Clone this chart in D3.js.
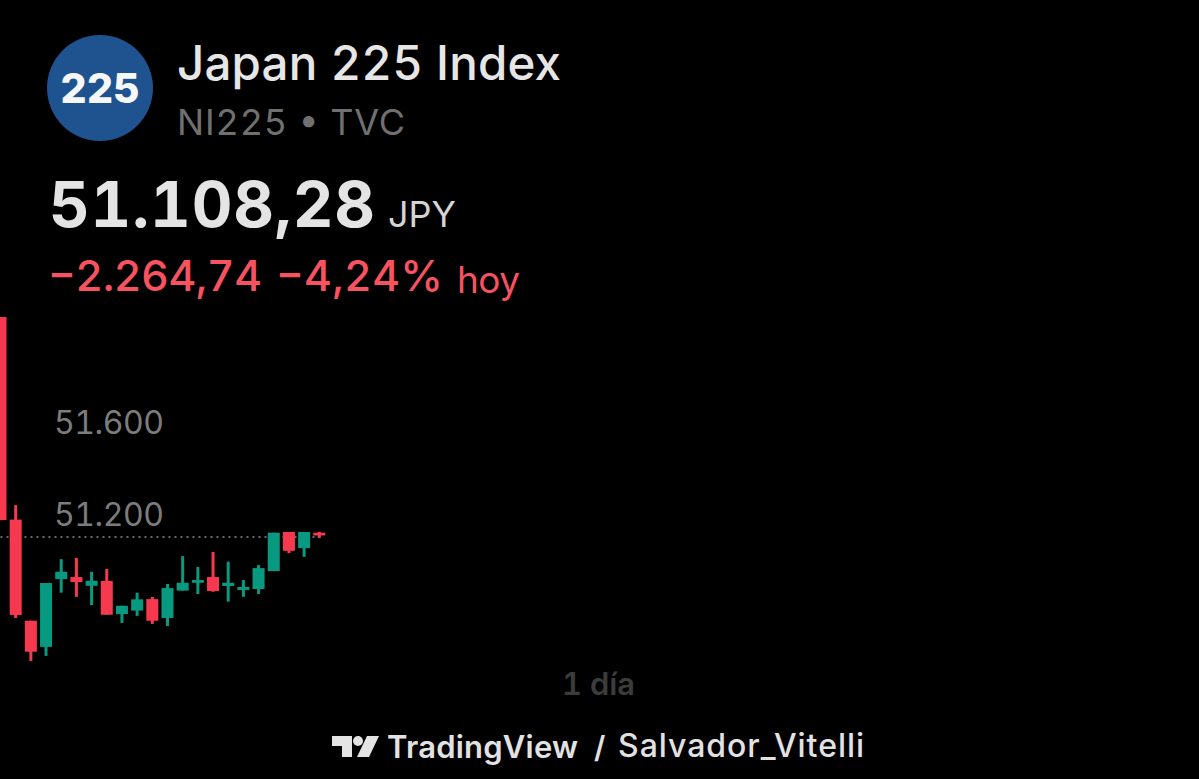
<!DOCTYPE html>
<html><head><meta charset="utf-8">
<script src="https://cdn.jsdelivr.net/npm/d3@7"></script>
<style>html,body{margin:0;padding:0;background:#000;overflow:hidden}svg{display:block}text{font-family:Inter,"Noto Sans",sans-serif;font-feature-settings:"tnum" 1}</style>
</head><body><svg id="c" width="1199" height="779"></svg>
<script>
const opens =[53373,51184,50744,50630,50925,50934,50896,50917,50773,50788,50838,50756,50875,50909,50934,50895,50878,50882,50960,51130,51060,51127];
const highs =[53373,51247,50744,50908,51012,51017,50957,50969,50809,50866,50847,50904,51025,50978,51043,51001,50921,50986,51127,51130,51130,51131];
const lows  =[51182,50756,50569,50591,50866,50848,50812,50770,50734,50765,50730,50721,50875,50860,50870,50827,50848,50860,50960,51038,51022,51104];
const closes=[51182,50769,50609,50908,50957,50912,50918,50770,50809,50837,50744,50886,50909,50921,50873,50909,50891,50973,51127,51048,51130,51115];
const yTicks=[51200,51600];
const lastPrice=51108.28;
const fmt=v=>String(v).replace(/\B(?=(\d{3})+$)/g,".");

const svg=d3.select("#c");
const W=1199,H=779;
svg.append("rect").attr("width",W).attr("height",H).attr("fill","#000");

function label(x,yy,size,weight,fill,str,len,anchor){
  const t=svg.append("text").attr("x",x).attr("y",yy).attr("font-size",size).attr("font-weight",weight).attr("fill",fill).text(str);
  if(len) t.attr("textLength",len).attr("lengthAdjust","spacing");
  if(anchor) t.attr("text-anchor",anchor);
  return t;
}
// header
svg.append("circle").attr("cx",100).attr("cy",88).attr("r",53).attr("fill","#1f5390");
label(100,103,41,800,"#f6f7f9","225",null,"middle");
label(177,80,47.5,500,"#e6e6e6","Japan 225 Index",384);
label(177,135,36,400,"#707070","NI225 • TVC",228);
label(49,227,63,700,"#e4e4e4","51.108,28",326);
label(388,227,36,400,"#d4d4d4","JPY",68);
label(48,291,43,500,"#f7525f","−2.264,74",214);
label(276,291,43,500,"#f7525f","−4,24%",167);
label(457,293,37,400,"#f7525f","hoy",63);

// chart
const y=d3.scaleLinear().domain([lastPrice,51600]).range([537,424]);
const x=d3.scaleLinear().domain([0,21]).range([0.5,319.3]);
svg.append("clipPath").attr("id","plot").append("rect").attr("x",0).attr("y",317).attr("width",W).attr("height",400);
const axis=d3.axisRight(y).tickValues(yTicks).tickFormat(fmt).tickSize(0).tickPadding(0);
const ga=svg.append("g").attr("transform","translate(54,-1)").call(axis);
ga.select(".domain").remove();
ga.selectAll("text").attr("font-size",32).attr("fill","#7c7c7c").attr("textLength",110).attr("lengthAdjust","spacing").style("font-family","Inter,sans-serif");

svg.append("line").attr("x1",x(0)).attr("x2",x(21)).attr("y1",y(lastPrice)).attr("y2",y(lastPrice))
  .attr("stroke","#d0d0d0").attr("stroke-width",1).attr("stroke-dasharray","2 4");

const data=opens.map((o,i)=>({i,o,h:highs[i],l:lows[i],c:closes[i]}));
const col=d=>d.c>=d.o?"#089981":"#f7394f";
const g=svg.append("g").attr("clip-path","url(#plot)");
g.selectAll(".wick").data(data).join("rect").attr("class","wick")
  .attr("x",d=>x(d.i)-1.5).attr("width",3).attr("y",d=>y(d.h)).attr("height",d=>y(d.l)-y(d.h)).attr("fill",col);
g.selectAll(".body").data(data).join("rect").attr("class","body")
  .attr("x",d=>x(d.i)-6).attr("width",12)
  .attr("y",d=>y(Math.max(d.o,d.c))).attr("height",d=>Math.max(2,Math.abs(y(d.o)-y(d.c)))).attr("fill",col);

// footer
label(562,695,31,600,"#3c3c3c","1 día",73);
const logo=svg.append("g").attr("transform","translate(332,736)").attr("fill","#e4e4e4");
logo.append("path").attr("d","M0 0H20V21H10V10H0Z");
logo.append("circle").attr("cx",26).attr("cy",5).attr("r",5);
logo.append("path").attr("d","M35 0H47L37 21H25Z");
label(387,758,31,600,"#e2e2e2","TradingView",191);
label(594,758,30,600,"#e2e2e2","/");
label(618,757,32,500,"#e2e2e2","Salvador_Vitelli",246);
</script></body></html>
